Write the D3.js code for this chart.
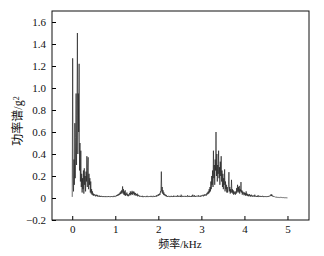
<!DOCTYPE html>
<html lang="zh">
<head>
<meta charset="UTF-8">
<title>功率谱</title>
<style>
    body { margin: 0; background: #fff; }
    svg text { font-family: "Liberation Serif", "Noto Sans CJK SC", serif; fill: #111; }
</style>
<script src="https://d3js.org/d3.v7.min.js"></script>
</head>
<body>
<div id="chart"></div>
<script>
    // sampled spectrum, one value every 0.01 kHz from 0 to 5 kHz (10 per row = 0.1 kHz)
    var df = 0.01;
    var power = [
        0.01,1.27,0.20,0.06,0.35,0.12,0.68,0.18,0.55,0.95,
        0.30,0.75,1.50,0.40,0.95,0.60,1.22,0.25,0.50,0.15,
        0.43,0.10,0.22,0.05,0.18,0.08,0.25,0.04,0.27,0.12,
        0.20,0.06,0.24,0.15,0.38,0.10,0.28,0.37,0.08,0.22,
        0.12,0.18,0.05,0.15,0.04,0.08,0.03,0.06,0.025,0.04,
        0.02,0.035,0.025,0.03,0.015,0.028,0.02,0.03,0.015,0.025,
        0.012,0.02,0.015,0.022,0.01,0.018,0.012,0.02,0.01,0.015,
        0.012,0.018,0.01,0.015,0.008,0.016,0.012,0.01,0.018,0.012,
        0.01,0.015,0.008,0.014,0.01,0.018,0.012,0.008,0.015,0.01,
        0.012,0.018,0.01,0.015,0.008,0.014,0.012,0.02,0.01,0.015,
        0.012,0.02,0.015,0.025,0.018,0.03,0.02,0.035,0.025,0.04,
        0.03,0.05,0.035,0.06,0.04,0.07,0.05,0.105,0.04,0.08,
        0.03,0.06,0.025,0.07,0.02,0.04,0.03,0.05,0.02,0.035,
        0.015,0.03,0.02,0.045,0.03,0.06,0.025,0.05,0.035,0.065,
        0.03,0.055,0.04,0.06,0.025,0.05,0.03,0.045,0.02,0.035,
        0.025,0.04,0.015,0.03,0.02,0.025,0.012,0.02,0.015,0.018,
        0.01,0.015,0.012,0.02,0.008,0.015,0.01,0.012,0.018,0.01,
        0.012,0.008,0.015,0.01,0.02,0.012,0.008,0.014,0.01,0.016,
        0.01,0.015,0.012,0.02,0.01,0.014,0.008,0.015,0.012,0.02,
        0.012,0.018,0.01,0.015,0.02,0.012,0.025,0.015,0.02,0.03,
        0.02,0.035,0.025,0.04,0.03,0.06,0.05,0.24,0.06,0.10,
        0.04,0.07,0.03,0.05,0.025,0.035,0.02,0.03,0.015,0.025,
        0.012,0.018,0.01,0.015,0.02,0.01,0.014,0.008,0.015,0.012,
        0.02,0.01,0.015,0.012,0.018,0.01,0.022,0.012,0.015,0.01,
        0.014,0.02,0.01,0.016,0.012,0.025,0.01,0.015,0.012,0.02,
        0.012,0.018,0.01,0.03,0.012,0.015,0.01,0.02,0.012,0.016,
        0.01,0.015,0.02,0.012,0.018,0.01,0.015,0.012,0.025,0.01,
        0.015,0.012,0.02,0.01,0.016,0.012,0.018,0.01,0.022,0.014,
        0.03,0.012,0.02,0.015,0.025,0.01,0.018,0.012,0.02,0.015,
        0.012,0.02,0.015,0.025,0.012,0.018,0.014,0.022,0.012,0.02,
        0.015,0.025,0.018,0.02,0.03,0.015,0.025,0.02,0.035,0.025,
        0.03,0.02,0.04,0.03,0.05,0.035,0.06,0.04,0.08,0.05,
        0.10,0.06,0.15,0.08,0.20,0.12,0.25,0.10,0.43,0.18,
        0.30,0.12,0.35,0.25,0.60,0.20,0.40,0.15,0.30,0.22,
        0.43,0.18,0.28,0.12,0.33,0.20,0.38,0.15,0.25,0.10,
        0.22,0.08,0.18,0.12,0.26,0.06,0.15,0.08,0.12,0.05,
        0.10,0.05,0.08,0.12,0.235,0.06,0.10,0.04,0.08,0.05,
        0.165,0.05,0.08,0.04,0.07,0.03,0.06,0.04,0.05,0.03,
        0.06,0.04,0.09,0.05,0.12,0.06,0.10,0.05,0.11,0.04,
        0.08,0.06,0.145,0.05,0.07,0.03,0.06,0.04,0.05,0.025,
        0.05,0.03,0.045,0.02,0.06,0.025,0.04,0.02,0.035,0.015,
        0.03,0.02,0.035,0.015,0.025,0.012,0.03,0.018,0.02,0.012,
        0.025,0.015,0.02,0.012,0.03,0.015,0.02,0.01,0.018,0.012,
        0.02,0.01,0.025,0.012,0.015,0.01,0.02,0.012,0.018,0.01,
        0.015,0.01,0.02,0.012,0.016,0.008,0.014,0.01,0.018,0.012,
        0.01,0.015,0.008,0.012,0.018,0.01,0.015,0.012,0.02,0.015,
        0.025,0.02,0.035,0.018,0.03,0.015,0.02,0.012,0.015,0.01,
        0.012,0.008,0.01,0.006,0.009,0.006,0.008,0.005,0.007,0.005,
        0.006,0.004,0.005,0.004,0.006,0.003,0.005,0.004,0.003,0.004,
        0.003,0.004,0.003,0.002,0.003,0.002,0.003,0.002,0.002,0.002,
        0.001
    ];
    var xTicks = [0, 1, 2, 3, 4, 5];
    var yTicks = [-0.2, 0, 0.2, 0.4, 0.6, 0.8, 1.0, 1.2, 1.4, 1.6];
    var xLabel = "频率/kHz";
    var yLabel = "功率谱/g";

    var width = 324, height = 256;
    var margin = {left: 52, right: 15, top: 11, bottom: 36};

    var svg = d3.select("#chart").append("svg")
        .attr("width", width)
        .attr("height", height);

    var x = d3.scaleLinear()
        .domain([-0.47, 5.5])
        .range([margin.left, width - margin.right]);

    var y = d3.scaleLinear()
        .domain([-0.2, 1.7])
        .range([height - margin.bottom, margin.top]);

    // the spectrum
    var line = d3.line()
        .x(function(d, i){ return x(i * df); })
        .y(function(d){ return y(d); });

    svg.append("path")
        .datum(power)
        .attr("d", line)
        .attr("fill", "none")
        .attr("stroke", "#1a1a1a")
        .attr("stroke-width", 0.65);

    // axes, ticks point inward
    svg.append("g")
        .attr("transform", "translate(0," + (height - margin.bottom) + ")")
        .call(d3.axisBottom(x).tickValues(xTicks).tickSizeInner(-4).tickSizeOuter(0).tickPadding(5)
            .tickFormat(d3.format("d")))
        .call(function(g){
            g.select(".domain").remove();
            g.selectAll("text").style("font-size", "11px");
        });

    svg.append("g")
        .attr("transform", "translate(" + margin.left + ",0)")
        .call(d3.axisLeft(y).tickValues(yTicks).tickSizeInner(-4).tickSizeOuter(0).tickPadding(6)
            .tickFormat(function(d){ return d === 0 ? "0" : d3.format(".1f")(d).replace("-", "\u2212"); }))
        .call(function(g){
            g.select(".domain").remove();
            g.selectAll("text").style("font-size", "11px");
        });

    svg.append("rect")
        .attr("x", margin.left)
        .attr("y", margin.top)
        .attr("width", width - margin.left - margin.right)
        .attr("height", height - margin.top - margin.bottom)
        .attr("fill", "none")
        .attr("stroke", "#111")
        .attr("stroke-width", 1);

    svg.append("text")
        .attr("x", x(2.5))
        .attr("y", height - 8)
        .attr("text-anchor", "middle")
        .style("font-size", "11px")
        .text(xLabel);

    var yl = svg.append("text")
        .attr("transform", "translate(22," + y(0.7) + ") rotate(-90)")
        .attr("text-anchor", "middle")
        .style("font-size", "12px")
        .text(yLabel);
    yl.append("tspan")
        .attr("dy", "-0.4em")
        .style("font-size", "8px")
        .text("2");
</script>
</body>
</html>
